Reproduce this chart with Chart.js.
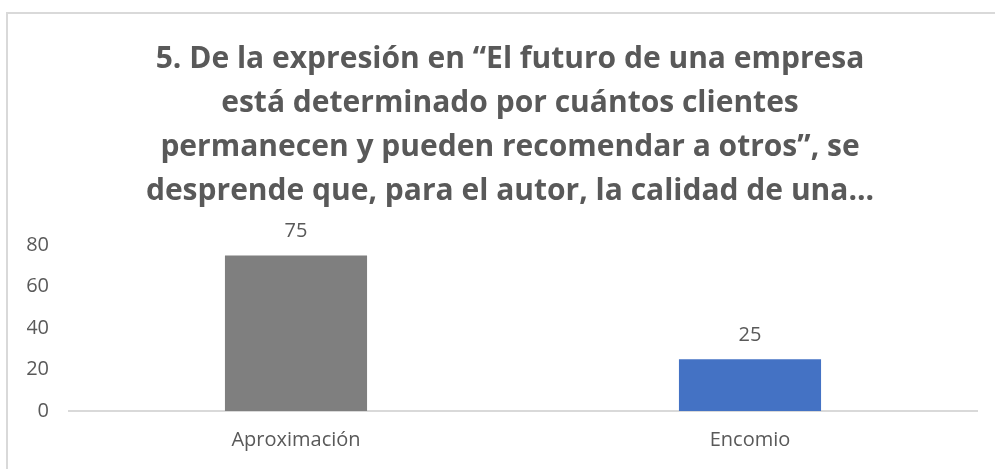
<!DOCTYPE html>
<html>
<head>
<meta charset="utf-8">
<script src="https://cdn.jsdelivr.net/npm/chart.js@4/dist/chart.umd.min.js"></script>
<style>
  html, body { margin: 0; padding: 0; background: #fff; }
  #wrap { position: relative; width: 995px; height: 469px; }
  #frame { position: absolute; left: 6px; top: 12px; right: -2px; bottom: -2px;
           border: 2px solid #d9d9d9; pointer-events: none; }
</style>
</head>
<body>
<div id="wrap">
  <canvas id="barChart"></canvas>
  <div id="frame"></div>
</div>
<script>
// data
const categories = ['Aproximación', 'Encomio'];
const values = [75, 25];
const barColors = ['#7f7f7f', '#4472c4'];
const titleLines = [
    '5. De la expresión en “El futuro de una empresa',
    'está determinado por cuántos clientes',
    'permanecen y pueden recomendar a otros”, se',
    'desprende que, para el autor, la calidad de una...'
];

const textColor = '#595959';

// labels above each bar
const valueLabels = {
    id: 'valueLabels',
    afterDatasetsDraw(chart) {
        const ctx = chart.ctx;
        const meta = chart.getDatasetMeta(0);
        ctx.save();
        ctx.font = '20px "Open Sans", sans-serif';
        ctx.fillStyle = textColor;
        ctx.textAlign = 'center';
        ctx.textBaseline = 'middle';
        meta.data.forEach((bar, i) => {
            ctx.fillText(values[i], bar.x, bar.y - 24);
        });
        ctx.restore();
    }
};

const ctxBar = document.getElementById('barChart');
new Chart(ctxBar, {
    type: 'bar',
    data: {
        labels: categories,
        datasets: [{
            data: values,
            backgroundColor: barColors,
            barPercentage: 0.5,
            categoryPercentage: 0.626
        }]
    },
    options: {
        responsive: true,
        maintainAspectRatio: false,
        animation: false,
        layout: { padding: { left: 27, right: 2, top: 0, bottom: 0 } },
        plugins: {
            legend: { display: false },
            tooltip: { enabled: false },
            title: {
                display: true,
                text: titleLines,
                color: textColor,
                font: { family: '"Open Sans", sans-serif', size: 30, weight: 'bold', lineHeight: 1.467 },
                padding: { top: 37, bottom: 32 }
            }
        },
        scales: {
            x: {
                grid: { display: false, drawTicks: false },
                border: { display: true, color: '#d9d9d9', width: 2 },
                ticks: { color: textColor, font: { family: '"Open Sans", sans-serif', size: 20 }, padding: 17 },
                afterFit(scale) { scale.height = 58; }
            },
            y: {
                min: 0,
                max: 80,
                ticks: { stepSize: 20, color: textColor, font: { family: '"Open Sans", sans-serif', size: 20 }, padding: 20 },
                grid: { display: false, drawTicks: false },
                border: { display: false },
                afterFit(scale) { scale.width = 42; }
            },
            // empty right axis, only reserves the gap on the right side
            yRight: {
                position: 'right',
                grid: { display: false, drawTicks: false },
                border: { display: false },
                ticks: { display: false },
                afterFit(scale) { scale.width = 16; }
            }
        }
    },
    plugins: [valueLabels]
});
</script>
</body>
</html>
